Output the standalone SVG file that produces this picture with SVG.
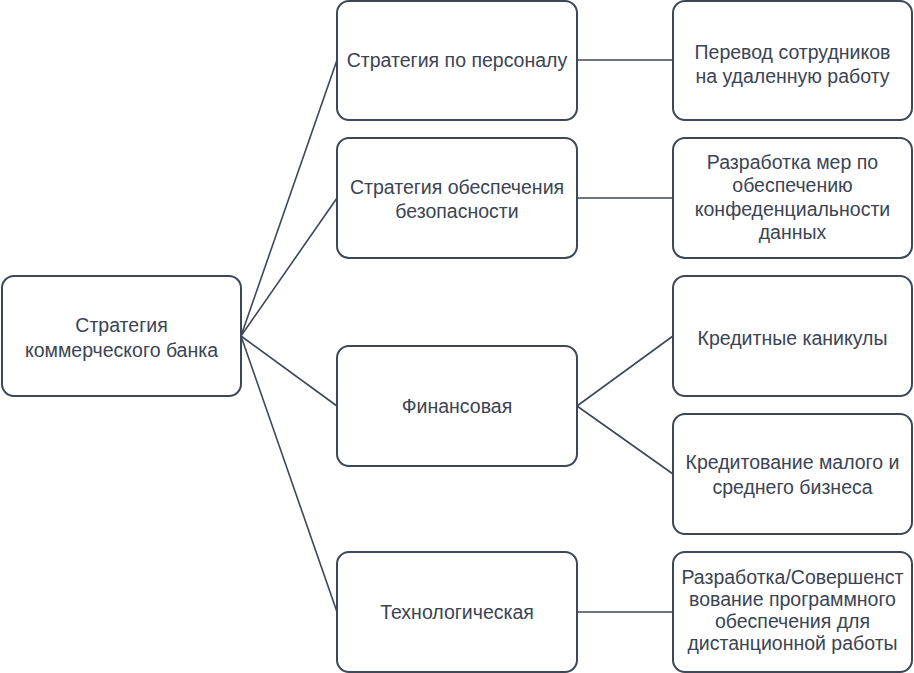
<svg xmlns="http://www.w3.org/2000/svg" width="914" height="673" viewBox="0 0 914 673">
<style>
.box{fill:#ffffff;stroke:#3d4756;stroke-width:2}
.t{font-family:"Liberation Sans",Arial,sans-serif;font-size:19.5px;fill:#3b4452;text-anchor:middle}
.c{stroke:#3d4756;stroke-width:1.6;fill:none}
</style>
<rect width="914" height="673" fill="#ffffff"/>
<g id="connectors">
<line class="c" x1="241" y1="336" x2="337" y2="60"/>
<line class="c" x1="241" y1="336" x2="337" y2="198"/>
<line class="c" x1="241" y1="336" x2="337" y2="406"/>
<line class="c" x1="241" y1="336" x2="337" y2="612"/>
<line class="c" x1="577" y1="60" x2="673" y2="60"/>
<line class="c" x1="577" y1="198" x2="673" y2="198"/>
<line class="c" x1="577" y1="406" x2="673" y2="336"/>
<line class="c" x1="577" y1="406" x2="673" y2="474"/>
<line class="c" x1="577" y1="612" x2="673" y2="612"/>
</g>
<g id="root">
<rect class="box" x="2" y="276" width="239" height="120" rx="12"/>
<text class="t" x="121.5" y="332">Стратегия</text>
<text class="t" x="121.5" y="357">коммерческого банка</text>
</g>
<g id="s1">
<rect class="box" x="337" y="1" width="240" height="119" rx="12"/>
<text class="t" x="457" y="67">Стратегия по персоналу</text>
</g>
<g id="s2">
<rect class="box" x="337" y="138" width="240" height="120" rx="12"/>
<text class="t" x="457" y="194">Стратегия обеспечения</text>
<text class="t" x="457" y="218">безопасности</text>
</g>
<g id="s3">
<rect class="box" x="337" y="346" width="240" height="120" rx="12"/>
<text class="t" x="457" y="413">Финансовая</text>
</g>
<g id="s4">
<rect class="box" x="337" y="552" width="240" height="120" rx="12"/>
<text class="t" x="457" y="619">Технологическая</text>
</g>
<g id="r1">
<rect class="box" x="673" y="1" width="239" height="119" rx="12"/>
<text class="t" x="792.5" y="59">Перевод сотрудников</text>
<text class="t" x="792.5" y="83">на удаленную работу</text>
</g>
<g id="r2">
<rect class="box" x="673" y="138" width="239" height="120" rx="12"/>
<text class="t" x="792.5" y="169">Разработка мер по</text>
<text class="t" x="792.5" y="192">обеспечению</text>
<text class="t" x="792.5" y="216">конфеденциальности</text>
<text class="t" x="792.5" y="239">данных</text>
</g>
<g id="r3">
<rect class="box" x="673" y="276" width="239" height="120" rx="12"/>
<text class="t" x="792.5" y="345">Кредитные каникулы</text>
</g>
<g id="r4">
<rect class="box" x="673" y="414" width="239" height="120" rx="12"/>
<text class="t" x="792.5" y="469">Кредитование малого и</text>
<text class="t" x="792.5" y="494">среднего бизнеса</text>
</g>
<g id="r5">
<rect class="box" x="673" y="552" width="239" height="120" rx="12"/>
<text class="t" x="792.5" y="584">Разработка/Совершенст</text>
<text class="t" x="792.5" y="606">вование программного</text>
<text class="t" x="792.5" y="628">обеспечения для</text>
<text class="t" x="792.5" y="650">дистанционной работы</text>
</g>
</svg>
